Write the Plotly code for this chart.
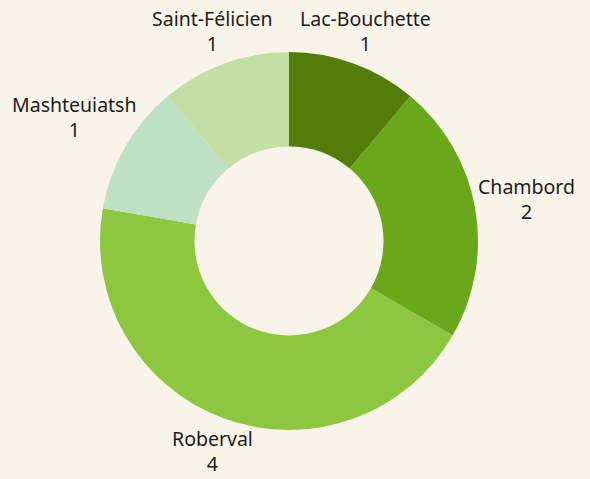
import math
import plotly.graph_objects as go

# Données
villes = ['Lac-Bouchette', 'Chambord', 'Roberval', 'Mashteuiatsh', 'Saint-Félicien']
nombres = [1, 2, 4, 1, 1]
couleurs = ['#527d08', '#69a81a', '#8dc63f', '#c0e0c5', '#c4dfa5']

BG = '#f8f4e9'
TEXTE = '#1c1c1c'
W, H = 590, 479
MARGE = dict(l=0, r=12, t=52, b=49)
TAILLE = 19.5

fig = go.Figure(go.Pie(
    labels=villes,
    values=nombres,
    hole=0.5,
    sort=False,
    direction='clockwise',
    rotation=0,
    marker=dict(colors=couleurs, line=dict(width=0)),
    textinfo='none',
    hoverinfo='label+value',
    showlegend=False,
))

# étiquettes extérieures : centrées sur la direction du milieu de chaque part
pw = W - MARGE['l'] - MARGE['r']
ph = H - MARGE['t'] - MARGE['b']
rayon = min(pw, ph) / 2
cx, cy = MARGE['l'] + pw / 2, MARGE['t'] + ph / 2
total = sum(nombres)
cumul = 0
annotations = []
for ville, n in zip(villes, nombres):
    theta = 2 * math.pi * (cumul + n / 2) / total
    cumul += n
    sx, sy = math.sin(theta), -math.cos(theta)
    larg = len(ville) * 10.9 / 2
    haut = 1.3 * TAILLE
    d = min(larg / max(abs(sx), 1e-6), haut / max(abs(sy), 1e-6))
    dist = rayon + 8 + d
    px, py = cx + dist * sx, cy + dist * sy
    annotations.append(dict(
        x=(px - MARGE['l']) / pw, y=(H - MARGE['b'] - py) / ph,
        xref='paper', yref='paper', showarrow=False,
        xanchor='center', yanchor='middle',
        text=f'{ville}<br>{n}',
        font=dict(size=TAILLE, color=TEXTE),
    ))

fig.update_layout(
    width=W,
    height=H,
    paper_bgcolor=BG,
    plot_bgcolor=BG,
    font=dict(family='Noto Sans, sans-serif', size=TAILLE, color=TEXTE),
    margin=MARGE,
    annotations=annotations,
)

# pas de marge blanche autour de la figure
fig.write_html("out.html", config={'displayModeBar': False},
               post_script="document.body.style.margin='0';")
